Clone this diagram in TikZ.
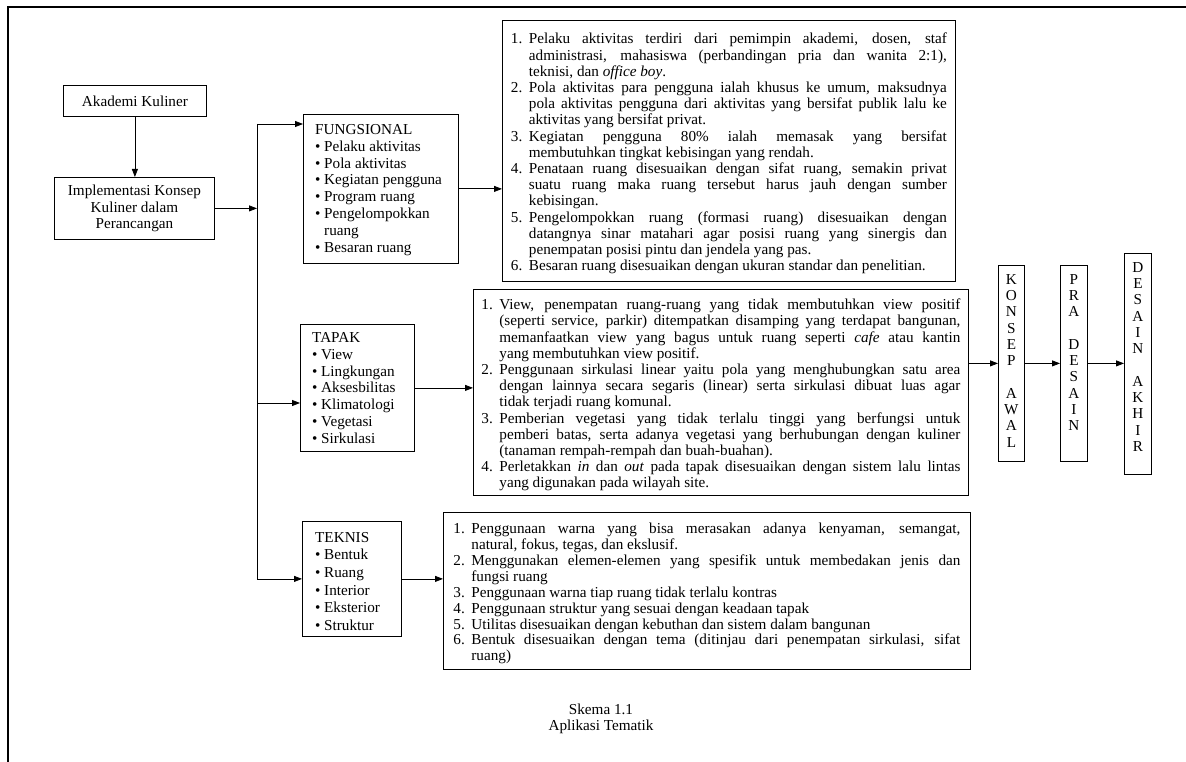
\documentclass[tikz,border=0pt]{standalone}
\usepackage{fontspec}
\setmainfont{Liberation Serif}
\usetikzlibrary{arrows.meta,calc}
\tolerance=10000
\hyphenpenalty=10000
\exhyphenpenalty=10000
\newcommand{\bul}{\makebox[9pt][l]{\textbullet}}
\newcommand{\itm}[2]{\par\noindent\hangindent=18pt\hangafter=1\makebox[18pt][l]{#1.}\ignorespaces#2\par}
\begin{document}
\begin{tikzpicture}[x=1pt,y=-1pt,
  box/.style={draw, line width=0.8pt, inner sep=0pt, anchor=north west},
  arr/.style={line width=0.8pt, -{Triangle[length=8pt,width=6pt]}},
  ln/.style={line width=0.8pt},
  txt/.style={font=\fontsize{15.2}{16.2}\selectfont},
  stxt/.style={font=\fontsize{15.2}{16.9}\selectfont, anchor=north west, inner sep=0pt, align=left},
  vtxt/.style={font=\fontsize{15.2}{16.3}\selectfont, anchor=north, inner sep=0pt, align=center}
]
\useasboundingbox (0,0) rectangle (1186,762);
\draw[line width=2.5pt] (8,770) -- (8,7) -- (1195,7);

% left column
\node[box, minimum width=143pt, minimum height=31pt, txt] (ak) at (63,85) {Akademi Kuliner};
\node[box, minimum width=160pt, minimum height=62pt, align=center, txt] (impl) at (54,177) {Implementasi Konsep\\Kuliner dalam\\Perancangan};

% category boxes
\node[box, minimum width=155pt, minimum height=149pt] (fung) at (303,114) {};
\node[stxt] (fungt) at (315,124) {FUNGSIONAL\\
\bul Pelaku aktivitas\\
\bul Pola aktivitas\\
\bul Kegiatan pengguna\\
\bul Program ruang\\
\bul Pengelompokkan\\
\hspace*{9pt}ruang\\
\bul Besaran ruang};

\node[box, minimum width=114pt, minimum height=127pt] (tapak) at (300,324) {};
\node[stxt] (tapakt) at (312,332) {TAPAK\\
\bul View\\
\bul Lingkungan\\
\bul Aksesbilitas\\
\bul Klimatologi\\
\bul Vegetasi\\
\bul Sirkulasi};

\node[box, minimum width=99pt, minimum height=115pt] (teknis) at (302,521) {};
\node[stxt, font=\fontsize{15.2}{17.6}\selectfont] (teknist) at (315,532) {TEKNIS\\
\bul Bentuk\\
\bul Ruang\\
\bul Interior\\
\bul Eksterior\\
\bul Struktur};

% spine
\coordinate (sTop) at (257,124);
\coordinate (sMid) at (257,403);
\coordinate (sBot) at (teknis.west -| sTop);

% big text boxes
\node[box, minimum width=453pt, minimum height=261pt, text width=436pt, align=justify, txt] (b1) at (502,20) {%
\itm{1}{Pelaku aktivitas terdiri dari pemimpin akademi, dosen, staf\linebreak administrasi, mahasiswa (perbandingan pria dan wanita 2:1),\linebreak teknisi, dan \textit{office boy}.}
\itm{2}{Pola aktivitas para pengguna ialah khusus ke umum, maksudnya\linebreak pola aktivitas pengguna dari aktivitas yang bersifat publik lalu ke\linebreak aktivitas yang bersifat privat.}
\itm{3}{Kegiatan pengguna 80\% ialah memasak yang bersifat\linebreak membutuhkan tingkat kebisingan yang rendah.}
\itm{4}{Penataan ruang disesuaikan dengan sifat ruang, semakin privat\linebreak suatu ruang maka ruang tersebut harus jauh dengan sumber\linebreak kebisingan.}
\itm{5}{Pengelompokkan ruang (formasi ruang) disesuaikan dengan\linebreak datangnya sinar matahari agar posisi ruang yang sinergis dan\linebreak penempatan posisi pintu dan jendela yang pas.}
\itm{6}{Besaran ruang disesuaikan dengan ukuran standar dan penelitian.}};

\node[box, minimum width=495pt, minimum height=206pt, text width=479pt, align=justify, txt] (b2) at (473,289) {%
\itm{1}{View, penempatan ruang-ruang yang tidak membutuhkan view positif\linebreak (seperti service, parkir) ditempatkan disamping yang terdapat bangunan,\linebreak memanfaatkan view yang bagus untuk ruang seperti \textit{cafe} atau kantin\linebreak yang membutuhkan view positif.}
\itm{2}{Penggunaan sirkulasi linear yaitu pola yang menghubungkan satu area\linebreak dengan lainnya secara segaris (linear) serta sirkulasi dibuat luas agar\linebreak tidak terjadi ruang komunal.}
\itm{3}{Pemberian vegetasi yang tidak terlalu tinggi yang berfungsi untuk\linebreak pemberi batas, serta adanya vegetasi yang berhubungan dengan kuliner\linebreak (tanaman rempah-rempah dan buah-buahan).}
\itm{4}{Perletakkan \textit{in} dan \textit{out} pada tapak disesuaikan dengan sistem lalu lintas\linebreak yang digunakan pada wilayah site.}};

\node[box, minimum width=527pt, minimum height=157pt, text width=507pt, align=justify, font=\fontsize{15.2}{15.9}\selectfont] (b3) at (443,512) {%
\itm{1}{Penggunaan warna yang bisa merasakan adanya kenyaman, semangat,\linebreak natural, fokus, tegas, dan ekslusif.}
\itm{2}{Menggunakan elemen-elemen yang spesifik untuk membedakan jenis dan\linebreak fungsi ruang}
\itm{3}{Penggunaan warna tiap ruang tidak terlalu kontras}
\itm{4}{Penggunaan struktur yang sesuai dengan keadaan tapak}
\itm{5}{Utilitas disesuaikan dengan kebuthan dan sistem dalam bangunan}
\itm{6}{Bentuk disesuaikan dengan tema (ditinjau dari penempatan sirkulasi, sifat\linebreak ruang)}\vspace*{10pt}};

% vertical stage boxes
\node[box, minimum width=26pt, minimum height=196pt] (konsep) at (998,265) {};
\node[vtxt] (konsept) at (konsep.north |- 0,274) {K\\O\\N\\S\\E\\P\\[16.3pt]A\\W\\A\\L};
\node[box, minimum width=27pt, minimum height=196pt] (pra) at (1060,265) {};
\node[vtxt] (prat) at (pra.north |- 0,274) {P\\R\\A\\[16.3pt]D\\E\\S\\A\\I\\N};
\node[box, minimum width=27pt, minimum height=221pt] (desain) at (1124,253) {};
\node[vtxt] (desaint) at (desain.north |- 0,262) {D\\E\\S\\A\\I\\N\\[16.3pt]A\\K\\H\\I\\R};

% caption
\node[txt, align=center, inner sep=0pt] (cap) at (601,719) {Skema 1.1\\Aplikasi Tematik};

% connectors
\draw[arr] (ak.south) -- (ak.south |- impl.north);
\draw[arr] (impl.east) -- (impl.east -| sTop);
\draw[ln] (sTop) -- (sBot);
\draw[arr] (sTop) -- (sTop -| fung.west);
\draw[arr] (sMid) -- (sMid -| tapak.west);
\draw[arr] (sBot) -- (teknis.west);
\draw[arr] (fung.east) -- (fung.east -| b1.west);
\draw[arr] (tapak.east) -- (tapak.east -| b2.west);
\draw[arr] (teknis.east) -- (teknis.east -| b3.west);
\draw[arr] (konsep.west -| b2.east) -- (konsep.west);
\draw[arr] (konsep.east) -- (pra.west);
\draw[arr] (pra.east) -- (pra.east -| desain.west);
\end{tikzpicture}
\end{document}
